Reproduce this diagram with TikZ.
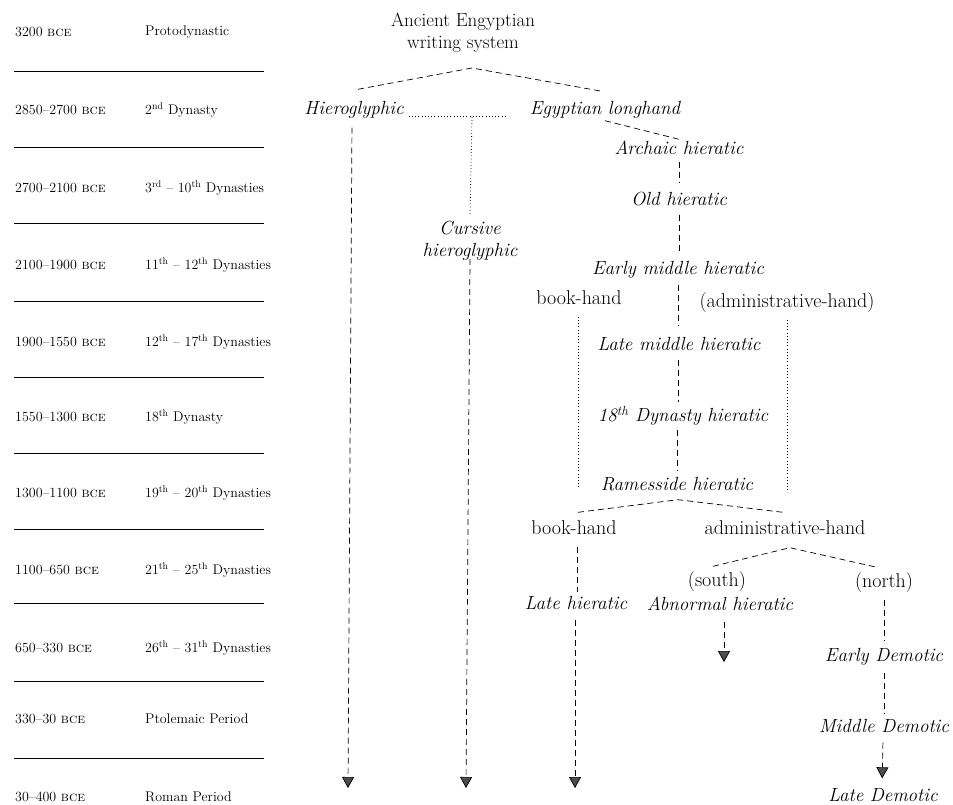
\documentclass[tikz,border=0pt]{standalone}
\usepackage{tikz}
\usetikzlibrary{arrows.meta}

\begin{document}
\begin{tikzpicture}[x=1pt, y=-1pt,
    tab/.style={anchor=west, inner sep=0pt, font=\fontsize{14}{16}\selectfont},
    txt/.style={inner sep=2pt, text height=13pt, text depth=4pt, font=\fontsize{20}{22}\selectfont},
    itx/.style={txt, font=\fontsize{19}{22}\selectfont\itshape},
    dashln/.style={line width=0.7pt, dash pattern=on 6pt off 4pt},
    dotln/.style={line width=0.8pt, dash pattern=on 0.8pt off 2.4pt},
    arr/.style={dashln, -{Triangle[width=12pt, length=11pt, fill=black!70]}}]
  \useasboundingbox (0,0) rectangle (953,804);

  % periods on the left
  \foreach \y/\d/\e [count=\i] in {
      32/{3200 \textsc{bce}}/{Protodynastic},
      110/{2850--2700 \textsc{bce}}/{2\textsuperscript{nd} Dynasty},
      188/{2700--2100 \textsc{bce}}/{3\textsuperscript{rd} -- 10\textsuperscript{th} Dynasties},
      265/{2100--1900 \textsc{bce}}/{11\textsuperscript{th} -- 12\textsuperscript{th} Dynasties},
      342/{1900--1550 \textsc{bce}}/{12\textsuperscript{th} -- 17\textsuperscript{th} Dynasties},
      417/{1550--1300 \textsc{bce}}/{18\textsuperscript{th} Dynasty},
      493/{1300--1100 \textsc{bce}}/{19\textsuperscript{th} -- 20\textsuperscript{th} Dynasties},
      570/{1100--650 \textsc{bce}}/{21\textsuperscript{th} -- 25\textsuperscript{th} Dynasties},
      648/{650--330 \textsc{bce}}/{26\textsuperscript{th} -- 31\textsuperscript{th} Dynasties},
      719/{330--30 \textsc{bce}}/{Ptolemaic Period},
      797/{30--400 \textsc{bce}}/{Roman Period}} {
    \node[tab] (date\i) at (15,\y) {\d};
    \node[tab] (era\i) at (145,\y) {\e};
  }
  \foreach \y in {71,147,223,301,377,453,529,603,681,758}
    \draw[line width=0.9pt] (14,\y) -- (264,\y);

  % the tree
  \node[align=center, inner sep=0pt, font=\fontsize{19}{22}\selectfont] (root) at (463,33)
    {Ancient Engyptian\\writing system};
  \node[itx] (hiero) at (354,110) {Hieroglyphic};
  \node[itx] (longhand) at (605,110) {Egyptian longhand};
  \node[align=center, inner sep=0pt, font=\fontsize{19}{22}\selectfont\itshape] (cursive) at (470,241)
    {Cursive\\hieroglyphic};
  \node[itx] (arch) at (679,150) {Archaic hieratic};
  \node[itx] (old) at (679,201) {Old hieratic};
  \node[itx] (early) at (678,270) {Early middle hieratic};
  \node[txt] (bookA) at (579,300) {book-hand};
  \node[txt] (adminA) at (787,303) {(administrative-hand)};
  \node[itx] (latemid) at (679,346) {Late middle hieratic};
  \node[itx] (dyn18) at (683,417) {18\textsuperscript{th} Dynasty hieratic};
  \node[itx] (rames) at (677,486) {Ramesside hieratic};
  \node[txt] (bookB) at (574,530) {book-hand};
  \node[txt] (adminB) at (785,530) {administrative-hand};
  \node[itx] (latehier) at (576,605) {Late hieratic};
  \node[txt] (south) at (717,582) {(south)};
  \node[itx] (abnormal) at (720,606) {Abnormal hieratic};
  \node[txt] (north) at (884,583) {(north)};
  \node[itx] (edem) at (884,657) {Early Demotic};
  \node[itx] (mdem) at (884,728) {Middle Demotic};
  \node[itx] (ldem) at (883,797) {Late Demotic};

  \coordinate (fork) at (472,68);
  \coordinate (cursfork) at (472,117);
  \coordinate (hieroEnd) at (348,788);
  \coordinate (cursEnd) at (466,788);
  \coordinate (lateEnd) at (575,788);
  \coordinate (abnEnd) at (724,662);
  \coordinate (bookEnd) at (578,488);
  \coordinate (adminEnd) at (787,492);

  % top split
  \draw[dashln] ([xshift=4pt,yshift=10pt]hiero.north) -- (fork)
    -- ([xshift=-3pt,yshift=8pt]longhand.north);
  \draw[dotln] ([xshift=3pt,yshift=-6pt]hiero.east) -- ([xshift=-22pt,yshift=-6pt]longhand.west);
  \draw[dotln] (cursfork) -- ([yshift=5pt]cursive.north);

  % long arrows
  \draw[arr, shorten <=7pt] ([xshift=-2pt]hiero.south) -- (hieroEnd);
  \draw[arr] ([yshift=2pt]cursive.south) -- (cursEnd);

  % hieratic line
  \draw[dashln] (longhand.south) -- (arch.north);
  \draw[dashln, shorten <=1pt, shorten >=7pt] (arch.south) -- (arch.south |- old.north);
  \draw[dashln, shorten <=3pt, shorten >=6pt] (old.south) -- (old.south |- early.north);
  \draw[dashln, shorten <=4pt, shorten >=10pt] (early.south) -- (early.south |- latemid.north);
  \draw[dashln, shorten <=3pt, shorten >=4pt] ([xshift=-1pt]latemid.south) -- ([xshift=-1pt]latemid.south |- dyn18.north);
  \draw[dashln, shorten <=2pt, shorten >=5pt] (rames.north |- dyn18.south) -- (rames.north);
  \draw[dotln, shorten <=6pt] ([xshift=-1pt]bookA.south) -- (bookEnd);
  \draw[dotln, shorten <=6pt] (adminA.south) -- (adminEnd);

  % after Ramesside
  \draw[dashln] ([xshift=4pt,yshift=7pt]bookB.north) -- ([xshift=1pt,yshift=-3pt]rames.south)
    -- ([xshift=-2pt,yshift=7pt]adminB.north);
  \draw[dashln, shorten <=6pt, shorten >=2pt] ([xshift=3pt]bookB.south) -- ([xshift=1pt]latehier.north);
  \draw[arr, shorten <=4pt] ([xshift=-1pt]latehier.south) -- (lateEnd);
  \draw[dashln] ([xshift=-4pt,yshift=5pt]south.north) -- ([xshift=5pt,yshift=-7pt]adminB.south)
    -- ([xshift=-7pt,yshift=5pt]north.north);
  \draw[arr, shorten <=5pt] ([xshift=4pt]abnormal.south) -- (abnEnd);
  \draw[dashln, shorten <=6pt, shorten >=6pt] (north.south) -- (edem.north);
  \draw[dashln, shorten <=5pt, shorten >=3pt] (edem.south) -- (mdem.north);
  \draw[arr, shorten <=4pt, shorten >=8pt] ([xshift=-1pt]mdem.south) -- ([xshift=-1pt]ldem.north);
\end{tikzpicture}
\end{document}
